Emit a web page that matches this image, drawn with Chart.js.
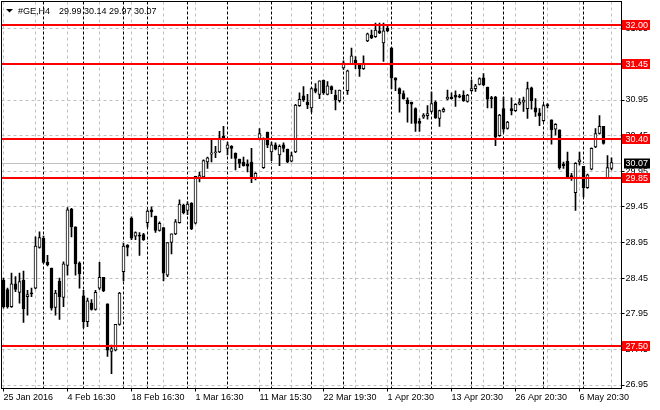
<!DOCTYPE html>
<html>
<head>
<meta charset="utf-8">
<script src="https://cdn.jsdelivr.net/npm/chart.js@4.4.0/dist/chart.umd.min.js"></script>
<style>
  html, body { margin: 0; padding: 0; background: #fff; }
</style>
</head>
<body>
<canvas id="geChart" width="660" height="410"></canvas>
<script>
/*--Data: #GE H4 candles--*/
var opens = [
  28.42, 28.29, 28.05, 28.37, 28.25, 28.42, 28.19, 28.23, 28.31, 28.88,
  29.01, 28.67, 28.59, 28.04, 28.41, 28.18, 28.63, 29.42, 29.17, 28.66,
  28.20, 27.84, 28.10, 28.01, 28.31, 28.46, 28.09, 27.42, 27.44, 27.80,
  28.54, 28.91, 29.29, 29.04, 29.04, 29.06, 29.23, 29.41, 29.32, 29.12,
  29.16, 28.49, 28.95, 29.07, 29.23, 29.47, 29.40, 29.50, 29.22, 29.86,
  29.87, 30.08, 30.19, 30.21, 30.22, 30.44, 30.27, 30.30, 30.20, 30.12,
  30.08, 30.05, 30.08, 29.86, 30.41, 30.00, 30.50, 30.22, 30.32, 30.18,
  30.32, 30.26, 30.09, 30.22, 30.87, 31.01, 30.92, 30.84, 31.11, 31.03,
  31.23, 31.03, 31.14, 31.02, 30.94, 31.40, 31.08, 31.46, 31.51, 31.45,
  31.39, 31.78, 31.86, 31.84, 31.92, 31.75, 31.96, 31.68, 31.26, 31.11,
  31.04, 30.95, 30.92, 30.83, 30.65, 30.71, 30.73, 30.79, 30.92, 30.69,
  30.79, 30.96, 30.99, 31.02, 31.01, 31.02, 30.93, 31.08, 31.11, 31.17,
  31.26, 31.13, 30.97, 30.99, 30.45, 30.83, 30.55, 30.83, 30.80, 30.89,
  30.92, 30.83, 31.12, 30.84, 30.77, 30.66, 30.88, 30.67, 30.54, 30.53,
  30.05, 30.09, 29.89, 29.65, 30.08, 30.02, 29.72, 29.98, 30.29, 30.48,
  30.58, 29.86, 29.99
];
var highs = [
  28.45, 28.31, 28.52, 28.47, 28.52, 28.55, 28.28, 28.31, 29.03, 29.10,
  29.04, 28.77, 28.59, 28.28, 28.45, 28.68, 29.44, 29.43, 29.17, 28.68,
  28.28, 28.17, 28.15, 28.28, 28.67, 28.46, 28.09, 27.51, 27.80, 28.25,
  28.94, 28.92, 29.31, 29.10, 29.09, 29.08, 29.41, 29.45, 29.32, 29.24,
  29.16, 28.95, 29.07, 29.27, 29.55, 29.49, 29.52, 29.51, 29.88, 29.94,
  30.11, 30.15, 30.39, 30.30, 30.51, 30.58, 30.36, 30.31, 30.21, 30.12,
  30.15, 30.11, 30.27, 29.93, 30.55, 30.42, 30.50, 30.36, 30.35, 30.32,
  30.35, 30.26, 30.22, 30.89, 31.05, 31.14, 31.03, 31.12, 31.18, 31.22,
  31.23, 31.21, 31.15, 31.09, 31.09, 31.50, 31.37, 31.68, 31.56, 31.45,
  31.57, 31.89, 31.93, 32.03, 32.03, 32.03, 32.00, 31.69, 31.26, 31.12,
  31.08, 30.98, 30.92, 30.84, 30.69, 30.76, 30.87, 31.06, 30.94, 30.81,
  30.84, 31.09, 31.05, 31.08, 31.03, 31.08, 31.03, 31.23, 31.17, 31.26,
  31.32, 31.13, 31.00, 31.00, 30.75, 30.99, 30.65, 30.98, 30.90, 30.97,
  30.99, 31.20, 31.13, 30.97, 30.83, 30.89, 30.90, 30.67, 30.62, 30.53,
  30.08, 30.22, 29.92, 30.07, 30.22, 30.02, 29.91, 30.28, 30.55, 30.73,
  30.58, 30.17, 30.14
];
var lows = [
  28.03, 28.03, 28.04, 28.26, 28.10, 27.83, 27.93, 28.19, 28.30, 28.87,
  28.66, 28.62, 28.00, 27.93, 27.87, 28.05, 28.49, 29.03, 28.49, 28.31,
  27.75, 27.77, 28.00, 28.00, 28.29, 28.26, 27.35, 27.11, 27.43, 27.79,
  28.41, 28.76, 28.99, 28.99, 28.77, 28.98, 29.17, 29.31, 29.09, 29.11,
  28.41, 28.47, 28.79, 29.06, 29.22, 29.35, 29.34, 29.13, 29.21, 29.80,
  29.86, 29.99, 30.08, 30.14, 30.21, 30.39, 30.18, 30.13, 29.97, 30.00,
  30.02, 29.94, 29.79, 29.83, 30.39, 29.99, 30.28, 30.10, 30.25, 30.03,
  30.22, 30.07, 30.08, 30.21, 30.86, 30.93, 30.83, 30.78, 31.05, 30.97,
  31.03, 31.02, 31.04, 30.81, 30.92, 31.38, 31.03, 31.45, 31.39, 31.28,
  31.38, 31.77, 31.81, 31.83, 31.88, 31.49, 31.91, 31.11, 31.08, 30.78,
  30.96, 30.64, 30.62, 30.51, 30.51, 30.69, 30.68, 30.78, 30.69, 30.58,
  30.78, 30.95, 30.96, 30.86, 30.98, 30.93, 30.92, 31.07, 31.07, 31.16,
  31.15, 30.84, 30.84, 30.31, 30.44, 30.50, 30.54, 30.74, 30.79, 30.88,
  30.79, 30.69, 30.82, 30.72, 30.59, 30.65, 30.84, 30.33, 30.46, 29.98,
  29.99, 29.86, 29.82, 29.40, 30.04, 29.59, 29.71, 29.97, 30.28, 30.47,
  30.33, 29.85, 29.97
];
var closes = [
  28.05, 28.05, 28.37, 28.29, 28.40, 28.02, 28.22, 28.23, 28.90, 29.02,
  28.67, 28.64, 28.03, 28.24, 28.19, 28.65, 29.41, 29.17, 28.65, 28.51,
  27.84, 28.13, 28.01, 28.25, 28.46, 28.27, 27.44, 27.46, 27.80, 28.24,
  28.90, 28.88, 29.01, 29.09, 29.04, 28.99, 29.39, 29.38, 29.12, 29.22,
  28.52, 28.95, 29.07, 29.24, 29.49, 29.37, 29.49, 29.14, 29.88, 29.89,
  30.10, 30.14, 30.21, 30.22, 30.42, 30.41, 30.32, 30.27, 30.13, 30.06,
  30.03, 30.02, 29.86, 29.92, 30.48, 30.41, 30.32, 30.32, 30.26, 30.30,
  30.27, 30.08, 30.17, 30.88, 30.96, 30.95, 30.88, 31.11, 31.07, 31.22,
  31.05, 31.15, 31.09, 30.95, 31.09, 31.47, 31.36, 31.57, 31.47, 31.39,
  31.45, 31.88, 31.82, 31.93, 31.89, 31.92, 31.92, 31.26, 31.23, 31.04,
  30.97, 30.90, 30.89, 30.62, 30.62, 30.74, 30.76, 30.90, 30.70, 30.80,
  30.82, 30.99, 30.97, 30.99, 30.99, 30.94, 31.02, 31.11, 31.15, 31.25,
  31.16, 30.96, 30.97, 30.43, 30.74, 30.54, 30.64, 30.80, 30.89, 30.92,
  30.95, 31.11, 30.94, 30.78, 30.73, 30.87, 30.87, 30.53, 30.61, 30.00,
  30.03, 29.87, 29.86, 30.06, 30.11, 29.72, 29.90, 30.27, 30.48, 30.58,
  30.34, 30.00, 30.07
];

var tickBars   = [0, 16, 32, 48, 64, 80, 96, 112, 128, 144];
var tickLabels = ['25 Jan 2016', '4 Feb 16:30', '18 Feb 16:30', '1 Mar 16:30', '11 Mar 15:30',
                  '22 Mar 19:30', '1 Apr 20:30', '13 Apr 20:30', '26 Apr 20:30', '6 May 20:30'];
var weekStarts = [10, 20, 30, 36, 46, 56, 67, 77, 85, 97, 107, 117, 125, 135, 145];
var priceTicks = [26.95, 27.45, 27.95, 28.45, 28.95, 29.45, 29.95, 30.45, 30.95, 31.45, 31.95];
var levels     = [32.00, 31.45, 30.40, 29.85, 27.50];
var lastPrice  = 30.07;
var headSymbol = '#GE,H4';
var headOhlc   = '29.99 30.14 29.97 30.07';
/*--------*/

var nBars = opens.length;
var labels = [];
for (var i = 0; i < nBars + 2; i++) labels.push(String(i));

var wickData = lows.map(function(l, i){ return [l, highs[i]]; });
var bodyData = opens.map(function(o, i){ return [o, closes[i]]; });
var bodyColors = opens.map(function(o, i){ return closes[i] > o ? '#ffffff' : '#000000'; });

var FONT = "'Liberation Sans', Arial, sans-serif";
Chart.defaults.font.family = FONT;
Chart.defaults.font.size = 9;
Chart.defaults.color = '#000';

function noPad(s) {
  s.paddingTop = 0; s.paddingBottom = 0; s.paddingLeft = 0; s.paddingRight = 0;
}

var overlay = {
  id: 'overlay',
  beforeDatasetsDraw: function(chart) {
    var ctx = chart.ctx, a = chart.chartArea;
    var py = Math.round(chart.scales.y.getPixelForValue(lastPrice)) + 0.5;
    ctx.save();
    ctx.strokeStyle = '#c0c0c0';
    ctx.lineWidth = 1;
    ctx.beginPath();
    ctx.moveTo(a.left, py);
    ctx.lineTo(a.right, py);
    ctx.stroke();
    ctx.restore();
  },
  afterDraw: function(chart) {
    var ctx = chart.ctx, a = chart.chartArea, ys = chart.scales.y;
    ctx.save();
    ctx.font = '9px ' + FONT;
    ctx.textBaseline = 'middle';
    ctx.textAlign = 'left';
    // horizontal levels
    levels.forEach(function(v){
      var py = Math.round(ys.getPixelForValue(v));
      ctx.fillStyle = '#ff0000';
      ctx.fillRect(a.left, py - 1, a.right - a.left, 2);
      ctx.fillRect(a.right + 0.5, py - 5, 28, 10);
      ctx.fillStyle = '#ffffff';
      ctx.fillText(v.toFixed(2), a.right + 4, py + 0.5);
    });
    // last price box
    var lp = Math.round(ys.getPixelForValue(lastPrice));
    ctx.fillStyle = '#000';
    ctx.fillRect(a.right + 2.5, lp - 4.5, 26, 10);
    ctx.fillStyle = '#fff';
    ctx.fillText(lastPrice.toFixed(2), a.right + 4, lp + 1);
    // frame
    ctx.strokeStyle = '#000';
    ctx.lineWidth = 1;
    ctx.strokeRect(a.left, a.top, a.right - a.left, a.bottom - a.top);
    // header
    ctx.fillStyle = '#000';
    ctx.beginPath();
    ctx.moveTo(6, 9); ctx.lineTo(13, 9); ctx.lineTo(9.5, 12.5); ctx.closePath();
    ctx.fill();
    ctx.textBaseline = 'alphabetic';
    ctx.fillText(headSymbol, 18, 14);
    ctx.fillText(headOhlc, 59, 14);
    ctx.restore();
  }
};

var geChart = new Chart('geChart', {
  type: 'bar',
  data: {
    labels: labels,
    datasets: [
      {
        label: 'wick',
        data: wickData,
        backgroundColor: '#000',
        borderWidth: 0,
        barThickness: 1,
        grouped: false,
        order: 2
      },
      {
        label: 'body',
        data: bodyData,
        backgroundColor: bodyColors,
        borderColor: '#000',
        borderWidth: 1,
        borderSkipped: false,
        barThickness: 3,
        minBarLength: 1,
        grouped: false,
        order: 1
      }
    ]
  },
  options: {
    responsive: false,
    animation: false,
    layout: { autoPadding: false, padding: { left: 1.5, top: 1.5, right: 0, bottom: 0 } },
    plugins: { legend: { display: false }, tooltip: { enabled: false } },
    scales: {
      x: {
        afterFit: function(s){ s.height = 21.5; noPad(s); },
        grid: {
          offset: false,
          drawTicks: true,
          tickLength: 3,
          tickWidth: 1,
          lineWidth: function(c){
            var i = c.index;
            if (weekStarts.indexOf(i) >= 0) return 1;
            if (i % 8 === 0 && i < nBars) return 1;
            return 0;
          },
          color: function(c){
            return weekStarts.indexOf(c.index) >= 0 ? '#000' : '#c0c0c0';
          },
          tickColor: function(c){
            return tickBars.indexOf(c.index) >= 0 ? '#000' : 'rgba(0,0,0,0)';
          }
        },
        border: {
          color: '#000',
          dash: function(c){ return weekStarts.indexOf(c.index) >= 0 ? [3, 2] : [3, 3]; }
        },
        ticks: {
          autoSkip: false,
          maxRotation: 0,
          minRotation: 0,
          align: 'start',
          padding: 1,
          callback: function(v, i){
            var k = tickBars.indexOf(i);
            return k >= 0 ? tickLabels[k] : '';
          }
        }
      },
      y: {
        position: 'right',
        min: 26.9009,
        max: 32.3325,
        afterBuildTicks: function(s){ s.ticks = priceTicks.map(function(v){ return { value: v }; }); },
        afterFit: function(s){ s.width = 38.5; noPad(s); },
        grid: { color: '#c0c0c0', lineWidth: 1, drawTicks: true, tickLength: 3, tickWidth: 1, tickColor: '#000' },
        border: { color: '#000', dash: [3, 3] },
        ticks: {
          padding: 1,
          callback: function(v){ return Number(v).toFixed(2); }
        }
      }
    }
  },
  plugins: [overlay]
});
</script>
</body>
</html>
